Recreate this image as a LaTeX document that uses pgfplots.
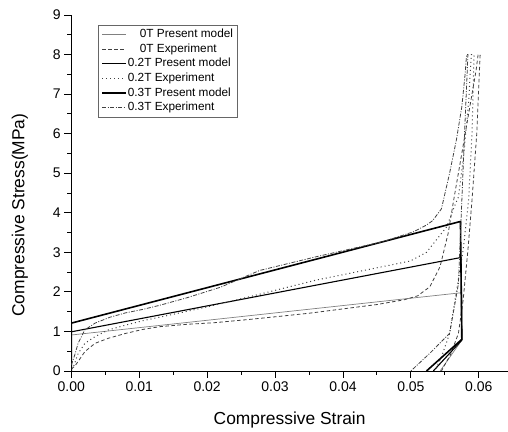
\documentclass[border=0pt]{standalone}
\usepackage{fontspec}
\setmainfont{Liberation Sans}
\usepackage{pgfplots}
\pgfplotsset{compat=1.18}
\begin{document}
\begin{tikzpicture}
\begin{axis}[
 name=ax,
 scale only axis,
 width=436.7pt, height=356pt,
 xmin=0, xmax=0.0643, ymin=0, ymax=9,
 axis lines=left, axis line style={-, line width=0.9pt},
 tick align=outside,
 major tick length=7pt, minor tick length=4pt,
 every tick/.style={black, line width=0.9pt},
 xtick={0,0.01,0.02,0.03,0.04,0.05,0.06}, minor x tick num=1,
 ytick={0,1,2,3,4,5,6,7,8,9}, minor y tick num=1,
 scaled x ticks=false,
 xticklabel style={/pgf/number format/.cd, fixed, fixed zerofill, precision=2, assume math mode=true},
 yticklabel style={/pgf/number format/assume math mode=true},
 ticklabel style={font=\fontsize{14}{16}\selectfont},
 xlabel={Compressive Strain},
 ylabel={Compressive Stress(MPa)},
 xlabel style={at={(axis description cs:0.5,-0.1376)}, anchor=center, font=\fontsize{17.4}{20}\selectfont},
 ylabel style={at={(axis description cs:-0.1175,0.438)}, anchor=center, font=\fontsize{17.4}{20}\selectfont},
 legend style={at={(axis description cs:0.0611,0.972)}, anchor=north west, draw=black!60, line width=0.6pt,
   font=\fontsize{11.8}{13}\selectfont, inner xsep=3pt, inner ysep=2pt,
   nodes={inner sep=1pt, text height=9.4pt, text depth=3.2pt}, row sep=0pt},
 legend cell align=left,
 legend image code/.code={\draw[#1] (0pt,0pt) -- (24pt,0pt);},
]
% 0T present model
\addplot[black!50, line width=0.7pt] coordinates {(0,0) (0,0.91) (0.0575,1.98) (0.0575,0.78) (0.0543,0)};
\addlegendentry{\hspace{12pt}0T Present model}
% 0T experiment
\addplot[black!75, line width=0.8pt, dash pattern=on 3.5pt off 2.5pt] coordinates {
(0,0.05) (0.0005,0.12) (0.001,0.24) (0.002,0.49) (0.0035,0.70) (0.0055,0.83) (0.008,0.95) (0.0105,1.05)
(0.013,1.12) (0.017,1.18) (0.021,1.22) (0.026,1.30) (0.03,1.37) (0.035,1.46) (0.04,1.57) (0.045,1.68)
(0.049,1.80) (0.051,1.90) (0.0528,2.13) (0.0543,2.64) (0.0555,3.49) (0.0563,4.32) (0.0575,5.5)
(0.0588,6.8) (0.0596,7.6) (0.0599,8.0) (0.0602,8.0) (0.0597,6.0) (0.059,4.32) (0.0584,3.06)
(0.0577,1.8) (0.057,0.95) (0.0558,0.4) (0.0548,0.1) (0.0545,0)};
\addlegendentry{\hspace{12pt}0T Experiment}
% 0.2T present model
\addplot[black, line width=1.1pt] coordinates {(0,0) (0,0.99) (0.0574,2.87) (0.0575,0.78) (0.0533,0)};
\addlegendentry{0.2T Present model}
% 0.2T experiment
\addplot[black!75, line width=1pt, dash pattern=on 1pt off 3pt] coordinates {
(0,0.05) (0.0003,0.1) (0.001,0.44) (0.002,0.70) (0.0035,0.87) (0.0055,1.04) (0.008,1.16) (0.0105,1.27)
(0.013,1.36) (0.016,1.47) (0.02,1.62) (0.0263,1.88) (0.0361,2.3) (0.0459,2.64) (0.0499,2.78)
(0.0523,3.0) (0.0553,3.65) (0.0562,4.07) (0.057,4.4) (0.0578,5.5) (0.0585,6.8) (0.0589,8.0)
(0.0593,8.0) (0.0590,6.0) (0.0585,4.32) (0.0577,3.06) (0.0565,1.8) (0.0557,0.95) (0.0545,0.35)
(0.0538,0.1) (0.0535,0)};
\addlegendentry{0.2T Experiment}
% 0.3T present model
\addplot[black, line width=1.6pt] coordinates {(0,0) (0,1.21) (0.0573,3.78) (0.0575,0.8) (0.0523,0)};
\addlegendentry{0.3T Present model}
% 0.3T experiment
\addplot[black!75, line width=0.8pt, dash pattern=on 4pt off 1.5pt on 1pt off 1.5pt] coordinates {
(0,0.15) (0.0005,0.4) (0.001,0.7) (0.002,1.04) (0.0035,1.21) (0.0057,1.36) (0.008,1.47) (0.0106,1.56)
(0.013,1.66) (0.017,1.85) (0.022,2.12) (0.0277,2.54) (0.0361,2.89) (0.0459,3.27) (0.0504,3.52)
(0.0523,3.69) (0.0532,3.8) (0.0545,4.1) (0.0557,5.0) (0.0567,5.84) (0.0575,6.68) (0.058,7.53)
(0.0582,8.0) (0.0584,8.0) (0.0579,6.0) (0.0575,4.3) (0.0570,2.2) (0.0557,0.95) (0.0528,0.45) (0.05,0)};
\addlegendentry{0.3T Experiment}
\end{axis}
\pgfresetboundingbox
\path[use as bounding box] ([shift={(-71.3pt,-61pt)}]ax.south west) rectangle ([shift={(0pt,15pt)}]ax.north east);
\end{tikzpicture}
\end{document}
